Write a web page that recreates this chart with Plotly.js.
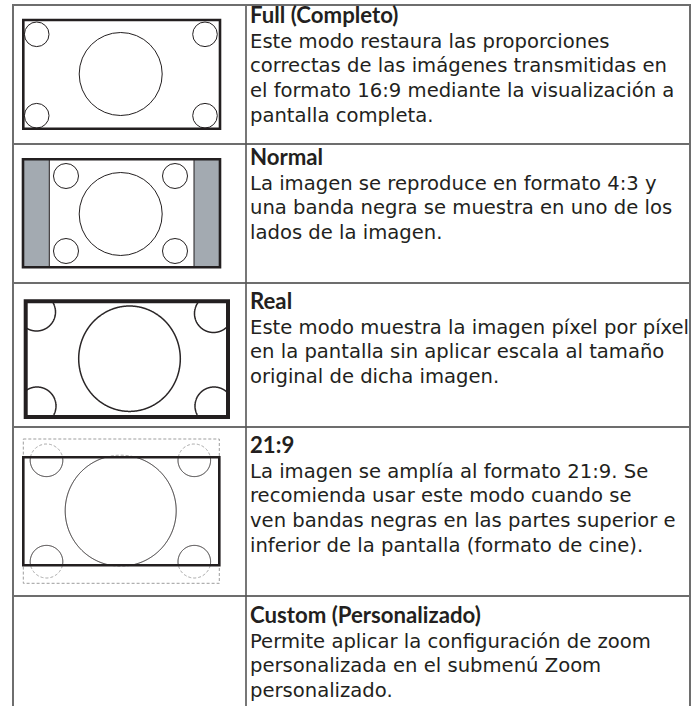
<!DOCTYPE html>
<html>
<head>
<meta charset="utf-8">
<script src="https://cdn.plot.ly/plotly-3.0.1.min.js"></script>
<style>html,body{margin:0;padding:0;background:#fff;}#chart{width:700px;height:706px;}</style>
</head>
<body>
<div id="chart"></div>
<script>
// ---- content ----
const modeTitles = ['Full (Completo)', 'Normal', 'Real', '21:9', 'Custom (Personalizado)'];
const modeLines = [
  ['Este modo restaura las proporciones', 'correctas de las imágenes transmitidas en', 'el formato 16:9 mediante la visualización a', 'pantalla completa.'],
  ['La imagen se reproduce en formato 4:3 y', 'una banda negra se muestra en uno de los', 'lados de la imagen.'],
  ['Este modo muestra la imagen píxel por píxel', 'en la pantalla sin aplicar escala al tamaño', 'original de dicha imagen.'],
  ['La imagen se amplía al formato 21:9. Se', 'recomienda usar este modo cuando se', 'ven bandas negras en las partes superior e', 'inferior de la pantalla (formato de cine).'],
  ['Permite aplicar la configuración de zoom', 'personalizada en el submenú Zoom', 'personalizado.']
];

// ---- layout geometry (pixel space) ----
const W = 700, H = 706;
const tableLeft = 13, tableRight = 690, tableTop = 5, colSplit = 246;
const rowLines = [144, 283, 427, 596];
const textX = 249;
const titleCapY = [15, 157, 301, 445, 615];
const baseSize = 19;      // sets the line pitch (1.3 x 19 = 24.7 px)
const glyphSize = 19.6;   // body glyph size
const titleSize = 22.2;   // title glyph size
const FONT = 'DejaVu Sans, Open Sans, sans-serif';
const TITLE_FONT = 'Lato, Open Sans, sans-serif';
const INK = '#231f20';

function ellipsePts(cx, cy, rx, ry, n) {
  const p = [];
  for (let i = 0; i < n; i++) {
    const a = 2 * Math.PI * i / n;
    p.push([cx + rx * Math.cos(a), cy + ry * Math.sin(a)]);
  }
  return p;
}
function clippedEllipse(cx, cy, rx, ry, box, keepInside) {
  const n = 720;
  const pts = ellipsePts(cx, cy, rx, ry, n);
  const test = p => (p[0] >= box.x0 && p[0] <= box.x1 && p[1] >= box.y0 && p[1] <= box.y1) === keepInside;
  let s = pts.findIndex(p => !test(p));
  if (s < 0) {
    return 'M' + pts.map(p => p[0].toFixed(2) + ',' + p[1].toFixed(2)).join('L') + 'Z';
  }
  let path = '', run = [];
  for (let k = 0; k <= n; k++) {
    const p = pts[(s + k) % n];
    if (test(p)) run.push(p);
    else {
      if (run.length > 1) path += 'M' + run.map(q => q[0].toFixed(2) + ',' + q[1].toFixed(2)).join('L');
      run = [];
    }
  }
  if (run.length > 1) path += 'M' + run.map(q => q[0].toFixed(2) + ',' + q[1].toFixed(2)).join('L');
  return path;
}

const shapes = [];
function rect(x0, y0, x1, y1, line, fill) {
  shapes.push({type: 'rect', xref: 'x', yref: 'y', x0, y0, x1, y1, line, fillcolor: fill || 'rgba(0,0,0,0)', layer: 'above'});
}
function circ(cx, cy, rx, ry, line) {
  shapes.push({type: 'circle', xref: 'x', yref: 'y', x0: cx - rx, x1: cx + rx, y0: cy - ry, y1: cy + ry, line, layer: 'above'});
}
function pathShape(d, line) {
  if (d) shapes.push({type: 'path', xref: 'x', yref: 'y', path: d, line, layer: 'above'});
}
const thin = {color: INK, width: 1};

// Full diagram
circ(120.7, 74, 41.5, 41.5, thin);
[[36.7, 34.3], [205, 34.3], [36.7, 115.7], [205, 115.7]].forEach(c => circ(c[0], c[1], 12.3, 12.3, thin));
rect(23.3, 20, 220, 128.7, {color: INK, width: 2.6});

// Normal diagram
rect(23, 159.3, 49.3, 267.3, {color: INK, width: 1}, '#a3aab1');
rect(194, 159.3, 220, 267.3, {color: INK, width: 1}, '#a3aab1');
circ(120.7, 214, 41.5, 41.5, thin);
[[66, 176], [175, 176], [66, 251], [175, 251]].forEach(c => circ(c[0], c[1], 12.5, 12.5, thin));
rect(23, 159.3, 220, 267.3, {color: INK, width: 2.6});

// Real diagram
const realBox = {x0: 25.7, x1: 228, y0: 301.3, y1: 417};
const realLine = {color: '#2a2627', width: 1.5};
pathShape(clippedEllipse(129.5, 358.7, 50.8, 52.7, realBox, true), realLine);
[[36.5, 312], [213.5, 313.5], [37, 406], [214, 406]].forEach(c =>
  pathShape(clippedEllipse(c[0], c[1], 19, 19, realBox, true), realLine));
rect(realBox.x0, realBox.y0, realBox.x1, realBox.y1, {color: INK, width: 4});

// 21:9 diagram
const wideBox = {x0: 23.3, x1: 219.3, y0: 457.3, y1: 565.3};
const dashed = {color: '#9d9d9d', width: 1, dash: '3px,2px'};
rect(23.3, 439, 219.3, 583.3, dashed);
const wideCircles = [[120.7, 510.7, 55.5], [46.5, 460.3, 16.3], [194.3, 460.3, 16.3], [46.5, 561.7, 16.3], [194.3, 561.7, 16.3]];
wideCircles.forEach(c => pathShape(clippedEllipse(c[0], c[1], c[2], c[2], wideBox, false), dashed));
wideCircles.forEach(c => pathShape(clippedEllipse(c[0], c[1], c[2], c[2], wideBox, true), thin));
rect(wideBox.x0, wideBox.y0, wideBox.x1, wideBox.y1, {color: INK, width: 2.6});

// Table grid
const gridLine = {color: '#3c3c3c', width: 1.5};
rowLines.forEach(y => shapes.push({type: 'line', xref: 'x', yref: 'y', x0: tableLeft, x1: tableRight, y0: y, y1: y, line: gridLine, layer: 'above'}));
shapes.push({type: 'line', xref: 'x', yref: 'y', x0: colSplit, x1: colSplit, y0: tableTop, y1: H + 2, line: {color: '#555', width: 1.6}, layer: 'above'});
const outer = {color: '#6e6e6e', width: 2};
shapes.push({type: 'line', xref: 'x', yref: 'y', x0: tableLeft, x1: tableLeft, y0: tableTop, y1: H + 2, line: outer, layer: 'above'});
shapes.push({type: 'line', xref: 'x', yref: 'y', x0: tableRight, x1: tableRight, y0: tableTop, y1: H + 2, line: outer, layer: 'above'});
shapes.push({type: 'line', xref: 'x', yref: 'y', x0: tableLeft - 1, x1: tableRight + 1, y0: tableTop, y1: tableTop, line: outer, layer: 'above'});

// Text: one annotation per cell
const span = s => '<span style="font-size:' + glyphSize + 'px">' + s + '</span>';
const titleSpan = s => '<span style="font-family:' + TITLE_FONT + ';font-size:' + titleSize + 'px"><b>' + s + '</b></span>';
const annotations = modeTitles.map((t, i) => ({
  xref: 'x', yref: 'y', x: textX, y: titleCapY[i] - 15,
  xanchor: 'left', yanchor: 'top', align: 'left', showarrow: false, borderpad: 0,
  text: [titleSpan(t)].concat(modeLines[i].map(span)).join('<br>'),
  font: {family: FONT, size: baseSize, color: INK}
}));

Plotly.newPlot('chart', [], {
  width: W, height: H,
  margin: {l: 0, r: 0, t: 0, b: 0, pad: 0},
  paper_bgcolor: '#fff', plot_bgcolor: '#fff',
  showlegend: false,
  xaxis: {range: [0, W], visible: false, fixedrange: true},
  yaxis: {range: [H, 0], visible: false, fixedrange: true},
  shapes, annotations
}, {staticPlot: true, displayModeBar: false});
</script>
</body>
</html>
